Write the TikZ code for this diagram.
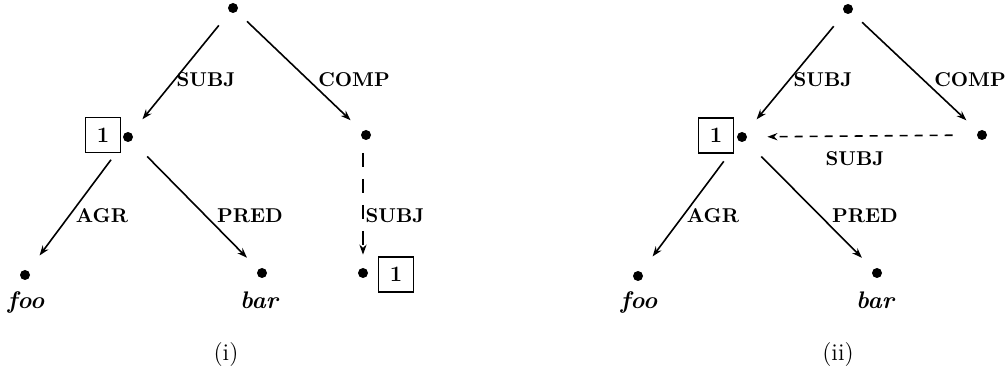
\documentclass[tikz,border=0pt]{standalone}
\usetikzlibrary{arrows.meta}
\begin{document}
\begin{tikzpicture}[x=0.5pt,y=-0.5pt,
  dot/.style={circle,fill=black,inner sep=0pt,minimum size=5pt},
  tag/.style={draw,line width=0.8pt,inner sep=0pt,minimum size=17.5pt,font=\fontsize{11}{13}\selectfont\bfseries},
  lab/.style={anchor=base,inner sep=0pt,font=\fontsize{10}{12}\selectfont\bfseries},
  word/.style={anchor=base,inner sep=0pt,font=\fontsize{12}{14}\selectfont\bfseries\itshape},
  capt/.style={anchor=base,inner sep=0pt,font=\fontsize{12}{14}\selectfont},
  conn/.style={line width=0.8pt,-{Stealth[length=5pt,width=3.6pt]}},
  dashconn/.style={conn,dash pattern=on 4pt off 3.5pt},
  longdash/.style={conn,dash pattern=on 7pt off 6pt}]
\useasboundingbox (0,0) rectangle (1008,374);
% ---------- (i) ----------
\node[dot] (at) at (233,8) {};
\node[dot] (an) at (128,137) {};
\node[tag] (ab) at (103,135) {1};
\node[dot] (ac) at (366,135) {};
\node[dot] (af) at (25,275) {};
\node[dot] (ar) at (262,273) {};
\node[dot] (al) at (363,273) {};
\node[tag] (alb) at (396,274.5) {1};
\draw[conn,shorten <=8.5pt,shorten >=8.75pt] (at) -- (an);
\draw[conn,shorten <=7pt,shorten >=8pt] (at) -- (ac);
\draw[conn,shorten <=11.5pt,shorten >=9.5pt] (an) -- (af);
\draw[conn,shorten <=11pt,shorten >=8pt] (an) -- (ar);
\draw[longdash,shorten <=9pt,shorten >=6.5pt] (al |- ac) -- (al);
\node[lab] (as) at (206,87) {SUBJ};
\node[lab] (aco) at (354,87) {COMP};
\node[lab] (aa) at (102,222) {AGR};
\node[lab] (ap) at (250,222) {PRED};
\node[lab] (ad) at (395,222) {SUBJ};
\node[word] (afw) at (26,308) {foo};
\node[word] (arw) at (259,308) {bar};
\node[capt] (acap) at (226,360) {(i)};
% ---------- (ii) ----------
\node[dot] (bt) at (848,9) {};
\node[dot] (bn) at (742,137) {};
\node[tag] (bb) at (716,135.5) {1};
\node[dot] (bc) at (982,135) {};
\node[dot] (bf) at (638,276) {};
\node[dot] (br) at (877,273) {};
\draw[conn,shorten <=8.5pt,shorten >=8.75pt] (bt) -- (bn);
\draw[conn,shorten <=7pt,shorten >=8pt] (bt) -- (bc);
\draw[conn,shorten <=12.5pt,shorten >=9.5pt] (bn) -- (bf);
\draw[conn,shorten <=11pt,shorten >=8pt] (bn) -- (br);
\draw[dashconn,shorten <=12pt,shorten >=10pt] (bc) -- (bn);
\node[lab] (bs) at (823,87) {SUBJ};
\node[lab] (bco) at (970,87) {COMP};
\node[lab] (bd) at (855,166) {SUBJ};
\node[lab] (ba) at (713,222) {AGR};
\node[lab] (bp) at (865,222) {PRED};
\node[word] (bfw) at (639,308) {foo};
\node[word] (brw) at (875,308) {bar};
\node[capt] (bcap) at (838,360) {(ii)};
\end{tikzpicture}
\end{document}
